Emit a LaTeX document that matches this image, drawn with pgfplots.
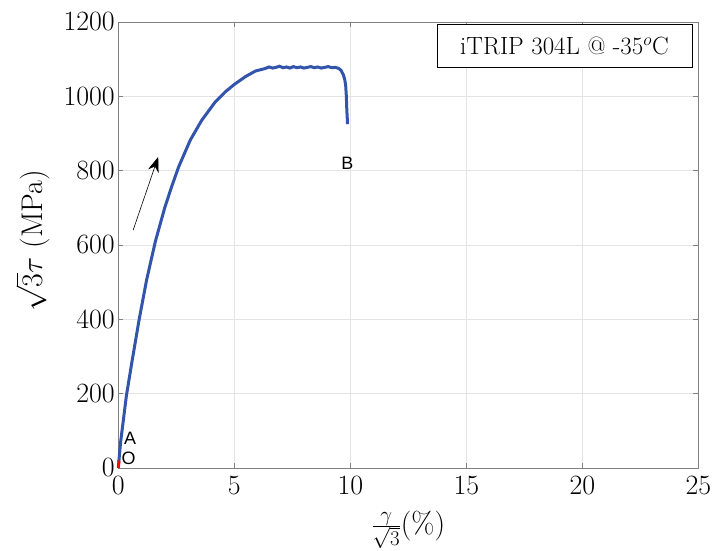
\RequirePackage{fix-cm}
\documentclass[border=0pt]{standalone}
\usepackage{fontspec}
\usepackage{pgfplots}
\pgfplotsset{compat=1.18}
\usetikzlibrary{arrows.meta}
\newfontfamily\helv{Liberation Sans}
\definecolor{curveblue}{RGB}{50,84,170}
\definecolor{gridgray}{RGB}{228,228,228}
\begin{document}
\begin{tikzpicture}
\begin{axis}[
  scale only axis,
  width=580bp, height=446bp,
  xmin=0, xmax=25, ymin=0, ymax=1200,
  xtick={0,5,10,15,20,25},
  ytick={0,200,400,600,800,1000,1200},
  font=\fontsize{28}{33}\selectfont,
  tick align=inside,
  major tick length=5bp,
  axis line style={black!50, line width=0.6bp},
  tick style={black!50, line width=0.6bp},
  grid=major,
  major grid style={gridgray, line width=0.6bp},
  scaled y ticks=false,
  y tick label style={/pgf/number format/1000 sep={}},
  xticklabel style={yshift=-5bp},
  xlabel={$\frac{\gamma}{\sqrt{3}}(\%)$},
  ylabel={$\sqrt{3}\tau$ (MPa)},
  xlabel style={at={(axis description cs:0.5,-0.139)}, anchor=center, inner sep=1pt, font=\fontsize{30}{36}\selectfont},
  ylabel style={at={(axis description cs:-0.148,0.509)}, anchor=center, inner sep=1pt, font=\fontsize{30}{36}\selectfont},
  clip=false,
]
\addplot[curveblue, line width=3bp] coordinates {
(0.02,15) (0.10,70) (0.20,120) (0.35,195) (0.60,290) (0.90,400) (1.22,506)
(1.60,610) (2.00,700) (2.30,757) (2.60,810) (3.10,882) (3.60,936) (4.18,985)
(4.61,1012) (5.00,1032) (5.48,1053) (5.91,1068) (6.34,1075) (6.50,1079)
(6.65,1076) (6.80,1078) (6.95,1081) (7.10,1077) (7.25,1079) (7.40,1076)
(7.55,1080) (7.70,1077) (7.85,1079) (8.00,1076) (8.15,1078) (8.30,1080)
(8.45,1077) (8.60,1079) (8.75,1076) (8.90,1078) (9.05,1080) (9.20,1077)
(9.35,1078) (9.50,1075) (9.60,1070) (9.70,1058) (9.76,1045) (9.80,1030)
(9.83,1000) (9.85,963) (9.87,940) (9.88,925)
};
\addplot[red, line width=3bp] coordinates {(0,0) (0.03,20)};
\draw[-{Stealth[length=15bp,width=11bp]}, line width=0.6bp] (axis cs:0.64,640) -- (axis cs:1.72,837);
\node[font=\helv\fontsize{18}{20}\selectfont] at (axis cs:0.51,79) {A};
\node[font=\helv\fontsize{18}{20}\selectfont] at (axis cs:0.44,26) {O};
\node[font=\helv\fontsize{18}{20}\selectfont] at (axis cs:9.87,820) {B};
\node[draw=black, line width=0.7bp, fill=white, anchor=north east,
      minimum width=255bp, minimum height=43bp, inner sep=0pt,
      font=\fontsize{25}{28}\selectfont]
  at (rel axis cs:0.9897,0.9955) {iTRIP 304L @ -35$^o$C};
\end{axis}
\pgfresetboundingbox
\path (-118.3bp,-83bp) rectangle (596.7bp,468bp);
\end{tikzpicture}
\end{document}
